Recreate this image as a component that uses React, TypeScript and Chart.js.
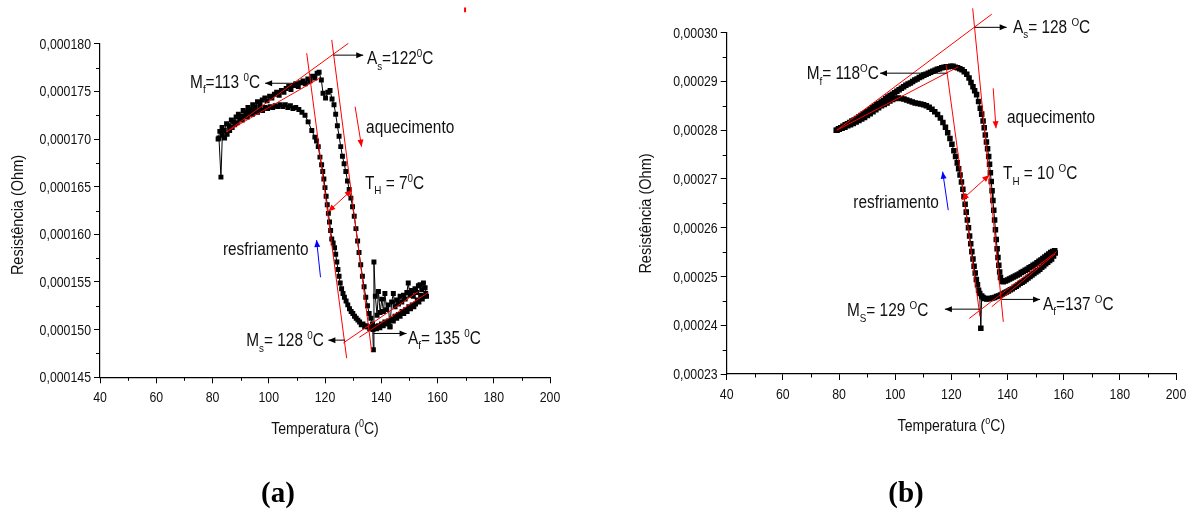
import React, { useEffect, useRef } from 'react';
import { Chart, registerables } from 'chart.js';

Chart.register(...registerables);

// ---------- Panel (a): temperature (°C) and resistance (µΩ) ----------
const tempHeatA = [82.0, 82.6, 83.4, 84.2, 85.0, 85.9, 86.7, 87.5, 88.4, 89.2, 90.1, 90.9, 91.8, 92.6, 93.5, 94.3, 95.2, 96.0, 96.9, 97.7, 98.6, 99.4, 100.3, 101.1, 102.0, 102.8, 103.7, 104.5, 105.4, 106.2, 107.1, 107.9, 108.8, 109.6, 110.5, 111.3, 112.2, 113.0, 113.9, 114.7, 115.6, 116.4, 117.2, 117.9, 118.7, 119.3, 120.2, 121.0, 121.8, 122.5, 123.2, 123.8, 124.4, 125.0, 125.6, 126.2, 126.8, 127.4, 128.0, 128.6, 129.2, 129.8, 130.4, 131.0, 131.6, 132.1, 132.7, 133.3, 133.9, 134.5, 135.1, 135.7, 136.3, 136.9, 137.2, 137.4, 137.9, 138.5, 139.0, 139.6, 140.2, 140.8, 141.3, 141.9, 142.5, 143.1, 143.7, 144.3, 144.9, 145.5, 146.1, 146.7, 147.3, 147.9, 148.5, 149.1, 149.6, 150.2, 150.8, 151.4, 152.0, 152.6, 153.2, 153.8, 154.4, 155.0, 155.6, 156.1];
const resHeatA = [170.0, 170.8, 171.2, 170.9, 171.6, 171.4, 172.0, 171.8, 172.3, 172.6, 172.4, 173.0, 172.8, 173.3, 173.1, 173.6, 173.4, 173.9, 173.7, 174.1, 174.3, 174.0, 174.5, 174.3, 174.7, 174.9, 174.6, 175.1, 174.9, 175.3, 175.5, 175.2, 175.6, 175.8, 175.5, 175.9, 176.1, 175.8, 176.3, 176.1, 176.6, 176.4, 176.9, 177.0, 176.2, 174.8, 174.3, 174.9, 175.1, 174.2, 173.6, 172.6, 171.4, 170.3, 169.2, 168.2, 167.4, 166.6, 165.6, 164.7, 163.8, 162.9, 161.9, 160.6, 159.3, 158.1, 156.8, 155.6, 154.5, 153.4, 152.5, 151.7, 151.2, 150.6, 147.9, 157.1, 153.5, 151.5, 154.0, 151.8, 153.2, 151.9, 153.8, 152.1, 152.6, 150.3, 152.9, 153.8, 152.4, 153.1, 152.7, 153.5, 152.9, 153.6, 153.2, 153.9, 154.9, 153.6, 154.1, 153.5, 154.3, 153.9, 154.6, 154.7, 154.2, 154.9, 154.4, 153.5];
const tempCoolA = [155.8, 155.2, 154.6, 154.0, 153.4, 152.8, 152.2, 151.6, 151.0, 150.4, 149.8, 149.2, 148.6, 148.0, 147.4, 146.7, 146.1, 145.5, 144.9, 144.3, 143.7, 143.1, 142.5, 141.9, 141.3, 140.7, 140.1, 139.5, 138.9, 138.3, 137.7, 137.1, 136.5, 135.9, 135.3, 134.7, 134.1, 133.5, 132.9, 132.3, 131.7, 131.1, 130.5, 129.9, 129.3, 128.7, 128.1, 127.5, 126.9, 126.4, 125.9, 125.4, 125.0, 124.6, 124.2, 123.8, 123.4, 122.9, 122.4, 122.0, 121.6, 121.2, 120.8, 120.4, 120.0, 119.6, 119.2, 118.8, 118.2, 117.6, 117.0, 116.4, 115.3, 114.0, 112.9, 111.8, 110.7, 109.6, 108.6, 107.7, 106.8, 105.9, 105.0, 104.1, 103.2, 102.3, 101.4, 100.5, 99.6, 98.7, 97.8, 96.9, 96.0, 95.1, 94.2, 93.3, 92.4, 91.5, 90.6, 89.7, 88.8, 87.9, 87.0, 86.1, 85.2, 84.3, 83.5, 83.0, 82.3];
const resCoolA = [153.8, 153.5, 153.2, 153.6, 152.9, 153.1, 152.7, 152.4, 152.6, 152.2, 152.4, 151.9, 152.1, 151.7, 151.9, 151.4, 151.6, 151.2, 151.4, 150.9, 151.1, 150.3, 150.9, 150.6, 150.8, 150.4, 150.6, 150.2, 150.4, 150.1, 150.3, 150.0, 150.2, 150.1, 150.3, 150.4, 150.3, 150.6, 150.5, 150.8, 151.0, 151.2, 151.4, 151.7, 151.9, 152.2, 152.6, 153.0, 153.4, 153.8, 154.3, 154.9, 155.6, 156.3, 157.1, 157.9, 158.6, 159.1, 159.5, 160.4, 161.3, 162.2, 163.1, 164.0, 164.9, 165.8, 166.6, 167.3, 168.1, 169.2, 169.8, 170.2, 170.9, 171.8, 172.5, 172.8, 173.1, 173.3, 173.2, 173.5, 173.3, 173.6, 173.4, 173.6, 173.4, 173.5, 173.3, 173.4, 173.2, 173.3, 173.0, 173.2, 172.8, 172.9, 172.6, 172.7, 172.3, 172.4, 172.0, 172.1, 171.7, 171.5, 171.2, 170.9, 170.5, 170.1, 170.4, 166.0, 170.1];
// red construction lines (x1, y1, x2, y2) in °C / µΩ
const redLinesA = [
  [85.05, 170.77, 128.3, 180.04],
  [85.05, 170.77, 118.2, 176.4],
  [113.5, 179.0, 127.7, 147.0],
  [122.4, 180.4, 136.6, 147.7],
  [126.5, 148.6, 153.2, 154.0],
  [132.2, 149.2, 156.7, 153.9],
];
const xTicksA = [40, 60, 80, 100, 120, 140, 160, 180, 200];
const yTicksA = [145, 150, 155, 160, 165, 170, 175, 180];
const xMinorA = [50, 70, 90, 110, 130, 150, 170, 190];
const yMinorA = [147.5, 152.5, 157.5, 162.5, 167.5, 172.5, 177.5];

// ---------- Panel (b) ----------
const tempHeatB = [79.0, 79.8, 80.6, 81.4, 82.2, 83.0, 83.8, 84.6, 85.4, 86.2, 87.0, 87.8, 88.6, 89.4, 90.2, 91.0, 91.8, 92.6, 93.4, 94.2, 95.0, 95.8, 96.6, 97.4, 98.2, 99.0, 99.8, 100.6, 101.4, 102.2, 103.0, 103.8, 104.6, 105.4, 106.2, 107.0, 107.8, 108.6, 109.4, 110.2, 111.0, 111.8, 112.6, 113.4, 114.2, 115.0, 115.8, 116.6, 117.4, 118.2, 119.0, 119.8, 120.6, 121.4, 122.2, 123.0, 123.8, 124.6, 125.5, 126.3, 127.0, 127.7, 128.3, 129.0, 129.7, 130.3, 130.8, 131.3, 131.7, 132.1, 132.5, 132.9, 133.3, 133.6, 133.9, 134.2, 134.5, 134.8, 135.1, 135.4, 135.7, 136.0, 136.3, 136.6, 136.9, 137.2, 137.5, 137.9, 138.5, 139.3, 140.0, 140.7, 141.4, 142.1, 142.8, 143.5, 144.2, 144.9, 145.6, 146.3, 147.0, 147.7, 148.4, 149.1, 149.8, 150.5, 151.2, 151.9, 152.6, 153.3, 154.0, 154.7, 155.4, 156.1, 156.8];
const resHeatB = [280.0, 280.3, 280.5, 280.8, 281.1, 281.3, 281.6, 281.9, 282.1, 282.4, 282.7, 283.0, 283.3, 283.6, 283.9, 284.2, 284.6, 284.9, 285.2, 285.5, 285.8, 286.1, 286.5, 286.8, 287.1, 287.4, 287.7, 288.0, 288.3, 288.6, 288.9, 289.2, 289.5, 289.7, 290.0, 290.3, 290.5, 290.8, 291.0, 291.3, 291.5, 291.7, 291.9, 292.1, 292.3, 292.5, 292.6, 292.8, 292.9, 293.0, 293.0, 293.1, 293.1, 292.9, 292.8, 292.6, 292.4, 292.0, 291.5, 290.7, 289.8, 288.9, 288.1, 287.3, 285.9, 284.5, 283.3, 281.9, 280.5, 279.0, 277.6, 276.2, 274.6, 273.0, 271.3, 269.5, 267.6, 265.6, 263.6, 261.6, 259.6, 257.6, 255.7, 253.9, 252.3, 250.9, 249.8, 249.0, 248.9, 249.1, 249.3, 249.5, 249.7, 249.9, 250.1, 250.3, 250.5, 250.8, 251.0, 251.3, 251.5, 251.8, 252.0, 252.3, 252.5, 252.8, 253.1, 253.4, 253.7, 254.0, 254.3, 254.6, 254.9, 255.1, 255.3];
const tempCoolB = [157.0, 156.4, 155.7, 155.0, 154.3, 153.6, 152.9, 152.2, 151.5, 150.8, 150.1, 149.4, 148.7, 148.0, 147.3, 146.6, 145.9, 145.2, 144.5, 143.8, 143.1, 142.4, 141.7, 141.0, 140.3, 139.6, 138.9, 138.2, 137.5, 136.8, 136.1, 135.4, 134.7, 134.0, 133.3, 132.6, 131.9, 131.3, 130.8, 130.5, 130.1, 129.7, 129.3, 128.9, 128.5, 128.1, 127.7, 127.3, 126.9, 126.5, 126.1, 125.7, 125.3, 124.9, 124.5, 124.1, 123.6, 123.1, 122.6, 122.1, 121.5, 120.9, 120.2, 119.5, 118.7, 117.9, 117.0, 116.1, 115.1, 114.1, 113.1, 112.1, 111.1, 110.1, 109.1, 108.1, 107.1, 106.1, 105.1, 104.1, 103.1, 102.1, 101.1, 100.1, 99.1, 98.1, 97.1, 96.1, 95.1, 94.1, 93.1, 92.1, 91.1, 90.1, 89.1, 88.1, 87.1, 86.1, 85.1, 84.1, 83.1, 82.1, 81.1, 80.1, 79.3];
const resCoolB = [254.8, 254.2, 253.6, 253.3, 252.9, 252.6, 252.2, 251.9, 251.5, 251.2, 250.9, 250.6, 250.3, 250.0, 249.7, 249.4, 249.1, 248.8, 248.6, 248.3, 248.0, 247.8, 247.5, 247.3, 247.0, 246.8, 246.6, 246.4, 246.2, 246.0, 245.9, 245.7, 245.6, 245.5, 245.5, 245.4, 245.5, 245.7, 246.0, 239.4, 246.5, 247.2, 248.3, 249.4, 250.7, 252.1, 253.6, 255.1, 256.7, 258.3, 260.0, 261.6, 263.2, 264.8, 266.4, 267.9, 269.4, 270.8, 272.1, 273.3, 274.6, 275.8, 277.1, 278.3, 279.5, 280.6, 281.6, 282.5, 283.2, 283.8, 284.3, 284.7, 285.0, 285.2, 285.4, 285.5, 285.6, 285.8, 286.0, 286.2, 286.4, 286.5, 286.6, 286.5, 286.3, 286.0, 285.6, 285.3, 285.0, 284.6, 284.2, 283.8, 283.4, 283.0, 282.6, 282.3, 282.0, 281.7, 281.4, 281.1, 280.9, 280.6, 280.4, 280.2, 280.0];
const redLinesB = [
  [79.2, 280.0, 134.4, 303.8],
  [79.2, 280.0, 122.5, 293.0],
  [118.1, 293.4, 130.2, 241.8],
  [127.6, 305.0, 138.5, 240.7],
  [126.4, 241.4, 157.5, 255.1],
  [134.4, 243.8, 156.9, 254.6],
];
const xTicksB = [40, 60, 80, 100, 120, 140, 160, 180, 200];
const yTicksB = [230, 240, 250, 260, 270, 280, 290, 300];
const xMinorB = [50, 70, 90, 110, 130, 150, 170, 190];
const yMinorB = [235, 245, 255, 265, 275, 285, 295];

type Seg = [string, number]; // 0 normal, 1 subscript, 2 superscript
type Txt = { x: number; y: number; segs: Seg[]; align: 'left' | 'right' };
type Arr = { x1: number; y1: number; x2: number; y2: number; color: string; heads: 'end' | 'both' | 'none' };

const BLACK = '#000000';
const RED = '#ff0000';
const BLUE = '#0000ff';
const TEXT = '#111111';

const textsA: Txt[] = [
  { x: 96.9, y: 176.0, align: 'right', segs: [['M', 0], ['f', 1], ['=113 ', 0], ['0', 2], ['C', 0]] },
  { x: 134.9, y: 178.5, align: 'left', segs: [['A', 0], ['s', 1], ['=122', 0], ['0', 2], ['C', 0]] },
  { x: 134.6, y: 171.3, align: 'left', segs: [['aquecimento', 0]] },
  { x: 134.2, y: 165.4, align: 'left', segs: [['T', 0], ['H', 1], [' = 7', 0], ['0', 2], ['C', 0]] },
  { x: 83.7, y: 158.5, align: 'left', segs: [['resfriamento', 0]] },
  { x: 119.6, y: 148.9, align: 'right', segs: [['M', 0], ['s', 1], ['= 128 ', 0], ['0', 2], ['C', 0]] },
  { x: 149.5, y: 149.2, align: 'left', segs: [['A', 0], ['f', 1], ['= 135 ', 0], ['0', 2], ['C', 0]] },
];
const arrowsA: Arr[] = [
  { x1: 114.7, y1: 175.85, x2: 98.7, y2: 175.85, color: BLACK, heads: 'end' },
  { x1: 122.95, y1: 178.8, x2: 133.6, y2: 178.8, color: BLACK, heads: 'end' },
  { x1: 130.7, y1: 173.4, x2: 133.0, y2: 169.2, color: RED, heads: 'end' },
  { x1: 121.2, y1: 162.4, x2: 129.5, y2: 164.65, color: RED, heads: 'both' },
  { x1: 118.4, y1: 155.5, x2: 117.0, y2: 159.4, color: BLUE, heads: 'end' },
  { x1: 127.1, y1: 148.9, x2: 121.2, y2: 148.9, color: BLACK, heads: 'end' },
  { x1: 137.2, y1: 149.6, x2: 149.0, y2: 149.6, color: BLACK, heads: 'end' },
  { x1: 169.8, y1: 183.8, x2: 169.8, y2: 183.3, color: RED, heads: 'none' },
];

const textsB: Txt[] = [
  { x: 94.2, y: 291.7, align: 'right', segs: [['M', 0], ['f', 1], ['= 118', 0], ['O', 2], ['C', 0]] },
  { x: 141.96, y: 301.2, align: 'left', segs: [['A', 0], ['s', 1], ['= 128 ', 0], ['O', 2], ['C', 0]] },
  { x: 139.8, y: 282.8, align: 'left', segs: [['aquecimento', 0]] },
  { x: 138.4, y: 271.2, align: 'left', segs: [['T', 0], ['H', 1], [' = 10 ', 0], ['O', 2], ['C', 0]] },
  { x: 85.1, y: 265.3, align: 'left', segs: [['resfriamento', 0]] },
  { x: 111.8, y: 243.1, align: 'right', segs: [['M', 0], ['S', 1], ['= 129 ', 0], ['O', 2], ['C', 0]] },
  { x: 152.6, y: 244.5, align: 'left', segs: [['A', 0], ['f', 1], ['=137 ', 0], ['O', 2], ['C', 0]] },
];
const arrowsB: Arr[] = [
  { x1: 118.35, y1: 291.7, x2: 94.6, y2: 291.7, color: BLACK, heads: 'end' },
  { x1: 128.4, y1: 301.1, x2: 139.7, y2: 301.1, color: BLACK, heads: 'end' },
  { x1: 134.9, y1: 288.6, x2: 135.9, y2: 280.4, color: RED, heads: 'end' },
  { x1: 123.7, y1: 265.7, x2: 133.5, y2: 270.8, color: RED, heads: 'both' },
  { x1: 118.9, y1: 263.6, x2: 116.9, y2: 271.5, color: BLUE, heads: 'end' },
  { x1: 130.2, y1: 243.3, x2: 117.7, y2: 243.3, color: BLACK, heads: 'end' },
  { x1: 137.9, y1: 245.3, x2: 151.6, y2: 245.3, color: BLACK, heads: 'end' },
];

const FONT = '"Liberation Sans", Arial, Helvetica, sans-serif';
const SQUEEZE = 0.88; // the original lettering is horizontally condensed

function drawRich(ctx: CanvasRenderingContext2D, segs: Seg[], x: number, yMid: number, align: string, size: number, color: string) {
  const small = size * 0.64;
  let w = 0;
  for (const [t, k] of segs) {
    ctx.font = `${k ? small : size}px ${FONT}`;
    w += ctx.measureText(t).width;
  }
  ctx.save();
  ctx.translate(x, yMid);
  ctx.scale(SQUEEZE, 1);
  let cx = align === 'right' ? -w : align === 'center' ? -w / 2 : 0;
  const base = size * 0.36;
  ctx.fillStyle = color;
  ctx.textAlign = 'left';
  ctx.textBaseline = 'alphabetic';
  for (const [t, k] of segs) {
    ctx.font = `${k ? small : size}px ${FONT}`;
    const dy = k === 1 ? size * 0.3 : k === 2 ? -size * 0.4 : 0;
    ctx.fillText(t, cx, base + dy);
    cx += ctx.measureText(t).width;
  }
  ctx.restore();
}

function arrowHead(ctx: CanvasRenderingContext2D, x1: number, y1: number, x2: number, y2: number) {
  const a = Math.atan2(y2 - y1, x2 - x1);
  const len = 7, wid = 3;
  ctx.beginPath();
  ctx.moveTo(x2, y2);
  ctx.lineTo(x2 - len * Math.cos(a) + wid * Math.sin(a), y2 - len * Math.sin(a) - wid * Math.cos(a));
  ctx.lineTo(x2 - len * Math.cos(a) - wid * Math.sin(a), y2 - len * Math.sin(a) + wid * Math.cos(a));
  ctx.closePath();
  ctx.fill();
}

type Spec = {
  tempHeat: number[]; resHeat: number[]; tempCool: number[]; resCool: number[];
  redLines: number[][]; xTicks: number[]; yTicks: number[]; xMinor: number[]; yMinor: number[];
  texts: Txt[]; arrows: Arr[]; decimals: number; pointRadius: number;
  yAxisWidth: number; xAxisHeight: number; padTop: number; padRight: number;
  yTitleDX: number; yTitleY: number; xTitleDY: number; xTitleSegs: Seg[]; panel: string; panelDX: number;
};

function buildChart(canvas: HTMLCanvasElement, s: Spec) {
  const plugin = {
    id: 'annotations',
    afterDraw(chart: any) {
      const ctx: CanvasRenderingContext2D = chart.ctx;
      const xs = chart.scales.x, ys = chart.scales.y, ca = chart.chartArea;
      ctx.save();
      ctx.strokeStyle = BLACK;
      ctx.lineWidth = 1;
      for (const v of s.xMinor) {
        const px = Math.round(xs.getPixelForValue(v)) + 0.5;
        ctx.beginPath(); ctx.moveTo(px, ca.bottom); ctx.lineTo(px, ca.bottom + 3.5); ctx.stroke();
      }
      for (const v of s.yMinor) {
        const py = Math.round(ys.getPixelForValue(v)) + 0.5;
        ctx.beginPath(); ctx.moveTo(ca.left, py); ctx.lineTo(ca.left - 4, py); ctx.stroke();
      }
      // tick labels (condensed lettering)
      for (const v of s.xTicks) {
        drawRich(ctx, [[String(v), 0]], xs.getPixelForValue(v), ca.bottom + 19.5, 'center', 14, TEXT);
      }
      for (const v of s.yTicks) {
        const label = (v * 1e-6).toFixed(s.decimals).replace('.', ',');
        drawRich(ctx, [[label, 0]], ca.left - 9, ys.getPixelForValue(v), 'right', 14, TEXT);
      }
      for (const a of s.arrows) {
        const x1 = xs.getPixelForValue(a.x1), y1 = ys.getPixelForValue(a.y1);
        const x2 = xs.getPixelForValue(a.x2), y2 = ys.getPixelForValue(a.y2);
        ctx.strokeStyle = a.color; ctx.fillStyle = a.color; ctx.lineWidth = a.heads === 'none' ? 2 : 1;
        ctx.beginPath(); ctx.moveTo(x1, y1); ctx.lineTo(x2, y2); ctx.stroke();
        if (a.heads !== 'none') arrowHead(ctx, x1, y1, x2, y2);
        if (a.heads === 'both') arrowHead(ctx, x2, y2, x1, y1);
      }
      for (const t of s.texts) {
        drawRich(ctx, t.segs, xs.getPixelForValue(t.x), ys.getPixelForValue(t.y), t.align, 17.5, TEXT);
      }
      // axis titles
      ctx.save();
      ctx.translate(ca.left + s.yTitleDX, s.yTitleY);
      ctx.rotate(-Math.PI / 2);
      drawRich(ctx, [['Resistência (Ohm)', 0]], 0, 0, 'center', 16.5, TEXT);
      ctx.restore();
      drawRich(ctx, s.xTitleSegs, (ca.left + ca.right) / 2, ca.bottom + s.xTitleDY, 'center', 16, TEXT);
      // panel label
      ctx.font = `bold 29px "Liberation Serif", "Times New Roman", serif`;
      ctx.fillStyle = BLACK;
      ctx.textAlign = 'center';
      ctx.textBaseline = 'middle';
      ctx.fillText(s.panel, ca.left + s.panelDX, 495);
      ctx.restore();
    },
  };

  const data = [
    ...s.tempHeat.map((t, i) => ({ x: t, y: s.resHeat[i] })),
    ...s.tempCool.map((t, i) => ({ x: t, y: s.resCool[i] })),
  ];
  const redSets = s.redLines.map((l) => ({
    data: [{ x: l[0], y: l[1] }, { x: l[2], y: l[3] }],
    showLine: true,
    borderColor: RED,
    borderWidth: 1,
    pointRadius: 0,
    clip: false as any,
    order: 1,
  }));

  return new Chart(canvas, {
    type: 'scatter',
    data: {
      datasets: [
        ...redSets,
        {
          data,
          showLine: true,
          borderColor: BLACK,
          borderWidth: 1,
          pointStyle: 'rect',
          pointRadius: s.pointRadius,
          pointBackgroundColor: BLACK,
          pointBorderWidth: 0,
          order: 2,
        },
      ] as any,
    },
    options: {
      responsive: false,
      animation: false,
      events: [],
      layout: { padding: { top: s.padTop, right: s.padRight, left: 0, bottom: 0 } },
      plugins: { legend: { display: false }, tooltip: { enabled: false } },
      scales: {
        x: {
          type: 'linear',
          min: s.xTicks[0],
          max: s.xTicks[s.xTicks.length - 1],
          afterBuildTicks: (sc: any) => { sc.ticks = s.xTicks.map((v) => ({ value: v })); },
          afterFit: (sc: any) => { sc.height = s.xAxisHeight; },
          grid: { drawOnChartArea: false, drawTicks: true, tickLength: 6, color: BLACK, lineWidth: 1 },
          border: { display: true, color: BLACK, width: 1.2 },
          ticks: { display: false },
        },
        y: {
          type: 'linear',
          min: s.yTicks[0],
          max: s.yTicks[s.yTicks.length - 1],
          afterBuildTicks: (sc: any) => { sc.ticks = s.yTicks.map((v) => ({ value: v })); },
          afterFit: (sc: any) => { sc.width = s.yAxisWidth; },
          grid: { drawOnChartArea: false, drawTicks: true, tickLength: 6, color: BLACK, lineWidth: 1 },
          border: { display: true, color: BLACK, width: 1.2 },
          ticks: { display: false },
        },
      },
    },
    plugins: [plugin as any],
  });
}

const specA: Spec = {
  tempHeat: tempHeatA, resHeat: resHeatA, tempCool: tempCoolA, resCool: resCoolA,
  redLines: redLinesA, xTicks: xTicksA, yTicks: yTicksA, xMinor: xMinorA, yMinor: yMinorA,
  texts: textsA, arrows: arrowsA, decimals: 6, pointRadius: 3.5,
  yAxisWidth: 100, xAxisHeight: 132.7, padTop: 43.7, padRight: 47,
  yTitleDX: -83, yTitleY: 215, xTitleDY: 50.7,
  xTitleSegs: [['Temperatura (', 0], ['0', 2], ['C)', 0]], panel: '(a)', panelDX: 178,
};
const specB: Spec = {
  tempHeat: tempHeatB, resHeat: resHeatB, tempCool: tempCoolB, resCool: resCoolB,
  redLines: redLinesB, xTicks: xTicksB, yTicks: yTicksB, xMinor: xMinorB, yMinor: yMinorB,
  texts: textsB, arrows: arrowsB, decimals: 5, pointRadius: 3.9,
  yAxisWidth: 129.7, xAxisHeight: 136, padTop: 32.7, padRight: 18,
  yTitleDX: -81.7, yTitleY: 213.5, xTitleDY: 51,
  xTitleSegs: [['Temperatura (', 0], ['o', 2], ['C)', 0]], panel: '(b)', panelDX: 179.3,
};

export default function App() {
  const refA = useRef<HTMLCanvasElement>(null);
  const refB = useRef<HTMLCanvasElement>(null);
  useEffect(() => {
    const a = buildChart(refA.current!, specA);
    const b = buildChart(refB.current!, specB);
    return () => { a.destroy(); b.destroy(); };
  }, []);
  return (
    <div style={{ position: 'fixed', left: 0, top: 0, width: 1194, height: 510, background: '#ffffff' }}>
      <canvas ref={refA} width={597} height={510} style={{ position: 'absolute', left: 0, top: 0, width: 597, height: 510 }} />
      <canvas ref={refB} width={597} height={510} style={{ position: 'absolute', left: 597, top: 0, width: 597, height: 510 }} />
    </div>
  );
}
